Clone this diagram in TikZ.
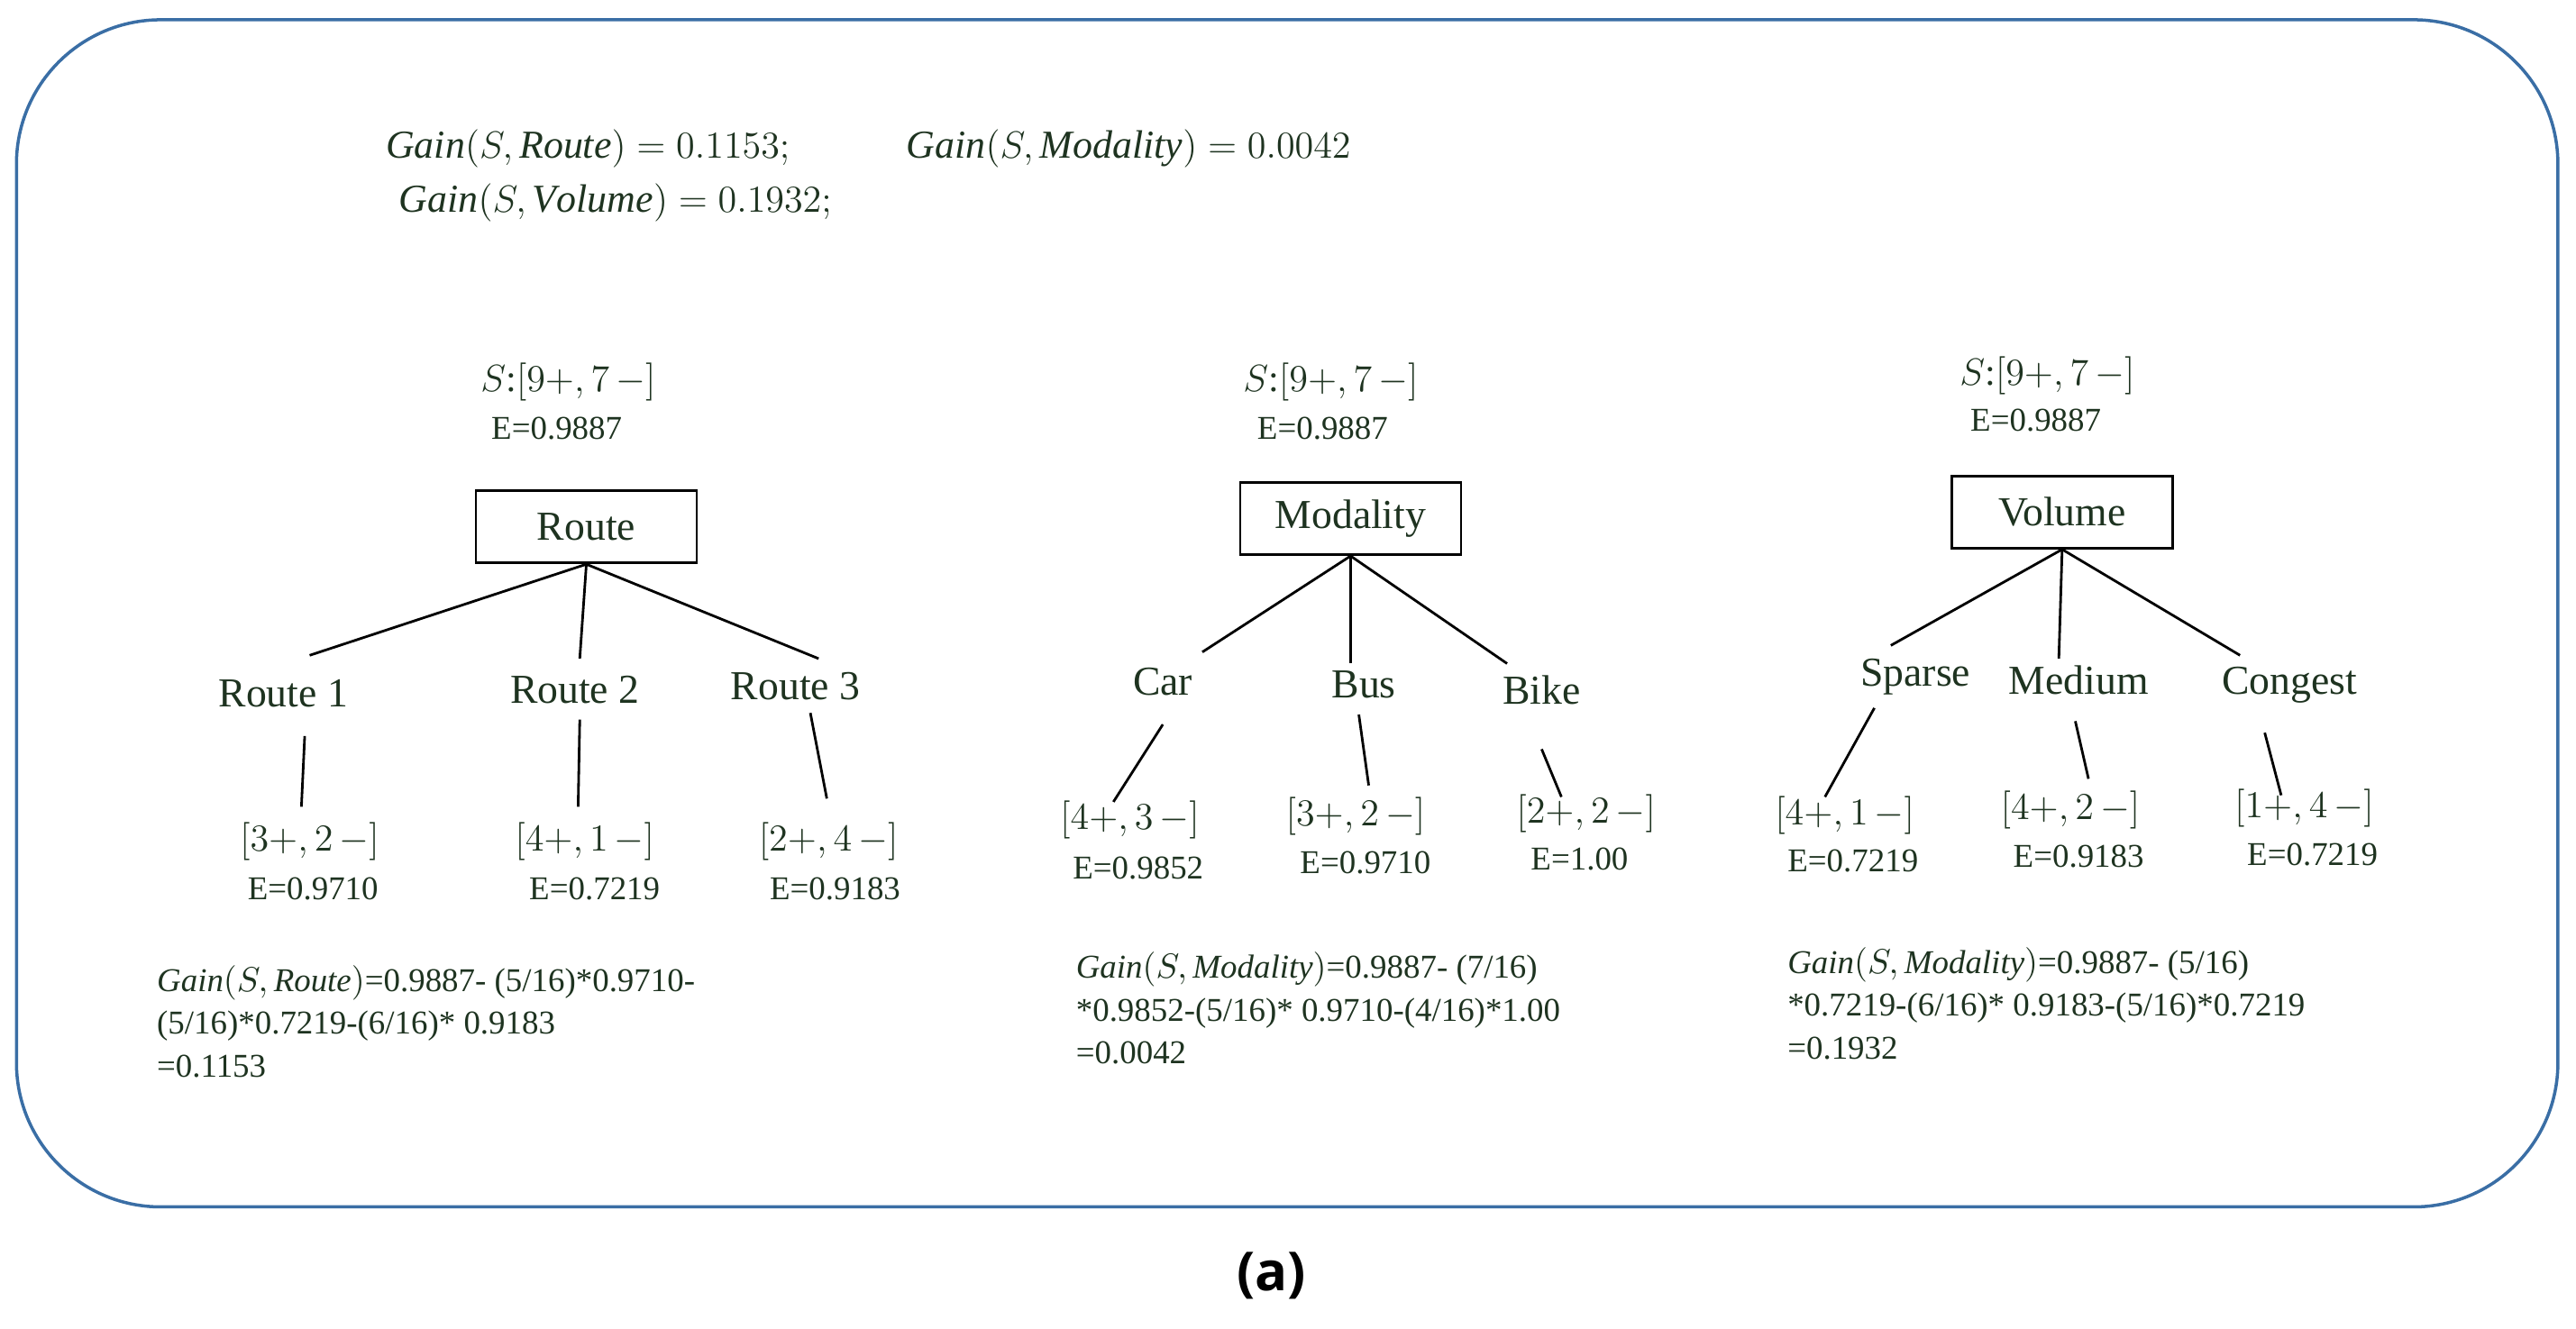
\documentclass[tikz,border=0pt]{standalone}
\usepackage{fontspec}
\setmainfont{Liberation Serif}
\newfontfamily\capf{Open Sans}
\definecolor{tg}{HTML}{1E3320}
\definecolor{frame}{HTML}{3A6EA5}
\begin{document}
\begin{tikzpicture}[x=0.1827mm,y=-0.1827mm,
  every node/.style={text=tg,inner sep=1pt},
  big/.style={font=\fontsize{13}{15}\selectfont},
  sm/.style={font=\fontsize{10.5}{12}\selectfont},
  mt/.style={font=\fontsize{12}{14}\selectfont},
  tp/.style={font=\fontsize{12.5}{15}\selectfont},
  gl/.style={font=\fontsize{10.5}{13.5}\selectfont,align=left,anchor=north west},
  box/.style={draw=black,line width=0.8pt,minimum width=24.5mm,minimum height=8mm,font=\fontsize{13}{15}\selectfont},
  ln/.style={line width=0.8pt}]
\useasboundingbox (0,0) rectangle (1564,807);
\draw[frame,line width=1pt,rounded corners=16mm] (10,12) rectangle (1553,733);
\node[tp,anchor=west] (g1) at (232,90) {$\mathit{Gain}(S,\mathit{Route})=0.1153;$};
\node[tp,anchor=west] (g2) at (548,90) {$\mathit{Gain}(S,\mathit{Modality})=0.0042$};
\node[tp,anchor=west] (g3) at (240,123) {$\mathit{Gain}(S,\mathit{Volume})=0.1932;$};
% Tree 1
\node[mt] (s1) at (345,232) {$S$:$[9+,7\,-]$};
\node[sm] (e1) at (338,260) {E=0.9887};
\node[box] (r) at (356,320) {Route};
\node[big] (r1) at (172,421) {Route 1};
\node[big] (r2) at (349,419) {Route 2};
\node[big] (r3) at (483,417) {Route 3};
\coordinate (r1t) at (188,398); \coordinate (r2t) at (352,400); \coordinate (r3t) at (497,400);
\draw[ln] (r.south) -- (r1t); \draw[ln] (r.south) -- (r2t); \draw[ln] (r.south) -- (r3t);
\node[mt] (a1) at (188,511) {$[3+,2\,-]$}; \node[sm] (ea1) at (190,540) {E=0.9710};
\node[mt] (a2) at (355,511) {$[4+,1\,-]$}; \node[sm] (ea2) at (361,540) {E=0.7219};
\node[mt] (a3) at (503,511) {$[2+,4\,-]$}; \node[sm] (ea3) at (507,540) {E=0.9183};
\draw[ln] (185,447) -- (183,490); \draw[ln] (352,437) -- (351,490); \draw[ln] (492,433) -- (502,485);
\node[gl] (ga) at (93,584) {$\mathit{Gain}(S,\mathit{Route})$=0.9887- (5/16)*0.9710-\\(5/16)*0.7219-(6/16)*\ 0.9183\\=0.1153};
% Tree 2
\node[mt] (s2) at (808,232) {$S$:$[9+,7\,-]$};
\node[sm] (e2) at (803,260) {E=0.9887};
\node[box] (m) at (820,315) {Modality};
\node[big] (m1) at (706,414) {Car};
\node[big] (m2) at (828,416) {Bus};
\node[big] (m3) at (936,419) {Bike};
\draw[ln] (m.south) -- (730,396); \draw[ln] (m.south) -- (820,403); \draw[ln] (m.south) -- (915,403);
\node[mt] (b1) at (686,498) {$[4+,3\,-]$}; \node[sm] (eb1) at (691,527) {E=0.9852};
\node[mt] (b2) at (823,496) {$[3+,2\,-]$}; \node[sm] (eb2) at (829,524) {E=0.9710};
\node[mt] (b3) at (963,494) {$[2+,2\,-]$}; \node[sm] (eb3) at (959,522) {E=1.00};
\draw[ln] (706,440) -- (676,487); \draw[ln] (825,434) -- (831,477); \draw[ln] (936,455) -- (948,484);
\node[gl] (gb) at (651,576) {$\mathit{Gain}(S,\mathit{Modality})$=0.9887- (7/16)\\*0.9852-(5/16)*\ 0.9710-(4/16)*1.00\\=0.0042};
% Tree 3
\node[mt] (s3) at (1243,228) {$S$:$[9+,7\,-]$};
\node[sm] (e3) at (1236,255) {E=0.9887};
\node[box] (v) at (1252,311) {Volume};
\node[big] (v1) at (1163,411) {Sparse};
\node[big] (v2) at (1262,413) {Medium};
\node[big] (v3) at (1390,416) {Congest};
\draw[ln] (v.south) -- (1148,392); \draw[ln] (v.south) -- (1250,400); \draw[ln] (v.south) -- (1360,398);
\node[mt] (c1) at (1120,495) {$[4+,1\,-]$}; \node[sm] (ec1) at (1125,523) {E=0.7219};
\node[mt] (c2) at (1257,492) {$[4+,2\,-]$}; \node[sm] (ec2) at (1262,520) {E=0.9183};
\node[mt] (c3) at (1399,491) {$[1+,4\,-]$}; \node[sm] (ec3) at (1404,519) {E=0.7219};
\draw[ln] (1138,430) -- (1108,484); \draw[ln] (1260,438) -- (1268,473); \draw[ln] (1375,445) -- (1385,483);
\node[gl] (gc) at (1083,573) {$\mathit{Gain}(S,\mathit{Modality})$=0.9887- (5/16)\\*0.7219-(6/16)*\ 0.9183-(5/16)*0.7219\\=0.1932};
\node[font=\capf\bfseries\fontsize{17}{20}\selectfont,text=black] (cap) at (772,775) {(a)};
\end{tikzpicture}
\end{document}
